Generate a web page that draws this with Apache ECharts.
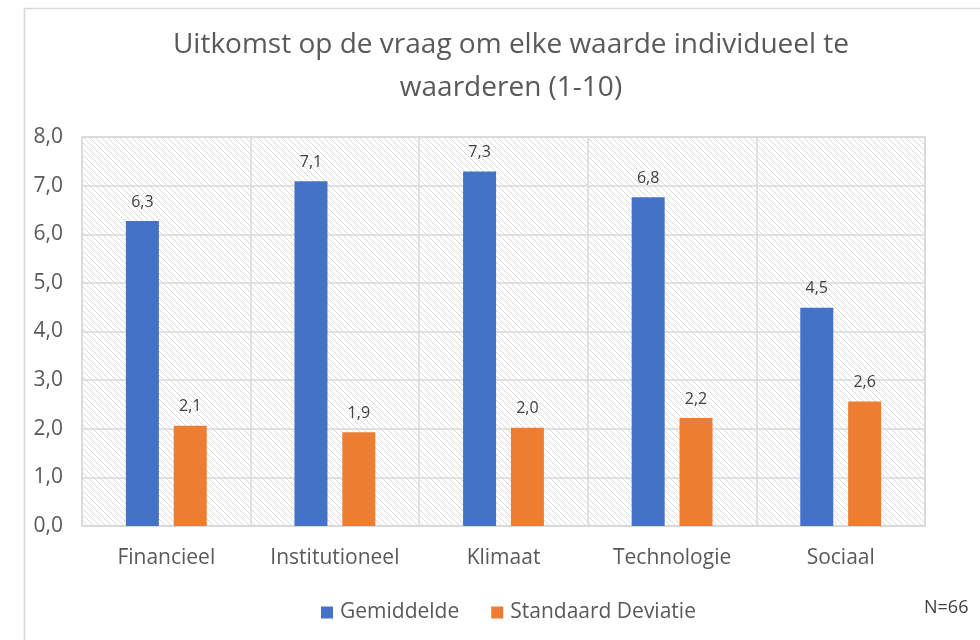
<!DOCTYPE html>
<html>
<head>
<meta charset="utf-8">
<script src="https://cdn.jsdelivr.net/npm/echarts@6/dist/echarts.min.js"></script>
<style>
html,body{margin:0;padding:0;background:#fff;}
#chart{width:980px;height:640px;}
</style>
</head>
<body>
<div id="chart"></div>
<script>
const categories = ['Financieel', 'Institutioneel', 'Klimaat', 'Technologie', 'Sociaal'];
const gemiddelde = [6.27, 7.09, 7.29, 6.76, 4.49];
const standaardDeviatie = [2.06, 1.93, 2.02, 2.22, 2.56];
const seriesNames = ['Gemiddelde', 'Standaard Deviatie'];
const yTicks = [0, 1, 2, 3, 4, 5, 6, 7, 8];
const titleText = 'Uitkomst op de vraag om elke waarde individueel te\nwaarderen (1-10)';

const FONT = '"Open Sans", "Noto Sans", sans-serif';

// hatch pattern
const tile = document.createElement('canvas');
tile.width = 6; tile.height = 6;
const tc = tile.getContext('2d');
tc.fillStyle = '#ffffff';
tc.fillRect(0, 0, 6, 6);
tc.strokeStyle = '#dadada';
tc.lineWidth = 1;
tc.beginPath();
tc.moveTo(-1, -1); tc.lineTo(7, 7);
tc.moveTo(-7, -1); tc.lineTo(1, 7);
tc.moveTo(5, -1); tc.lineTo(13, 7);
tc.stroke();

const fmt = v => v.toFixed(1).replace('.', ',');

const chart = echarts.init(document.getElementById('chart'), null, {renderer: 'canvas'});
chart.setOption({
  animation: false,
  backgroundColor: '#ffffff',
  grid: {
    left: 82, top: 137, width: 843, height: 389,
    show: true,
    backgroundColor: {image: tile, repeat: 'repeat'},
    borderColor: '#d9d9d9',
    borderWidth: 1.5
  },
  legend: {
    data: seriesNames,
    left: 316,
    top: 597,
    itemWidth: 12,
    itemHeight: 12,
    itemGap: 32,
    icon: 'rect',
    textStyle: {fontFamily: FONT, fontSize: 21, color: '#595959', padding: [0, 0, 0, 2]}
  },
  xAxis: {
    type: 'category',
    data: categories,
    axisLine: {show: true, lineStyle: {color: '#d9d9d9', width: 1.5}},
    axisTick: {show: false},
    splitLine: {show: true, lineStyle: {color: '#d9d9d9', width: 1.5}},
    axisLabel: {fontFamily: FONT, fontSize: 21, color: '#595959', margin: 22}
  },
  yAxis: {
    type: 'value',
    min: yTicks[0],
    max: yTicks[yTicks.length - 1],
    interval: 1,
    axisLine: {show: false},
    axisTick: {show: false},
    splitLine: {show: true, lineStyle: {color: '#d9d9d9', width: 1.5}},
    axisLabel: {fontFamily: FONT, fontSize: 21, color: '#595959', margin: 19, formatter: v => fmt(v)}
  },
  series: [
    {
      name: seriesNames[0],
      type: 'bar',
      data: gemiddelde,
      barWidth: 33,
      barGap: '45%',
      itemStyle: {color: '#4472C4'},
      label: {show: true, position: 'top', distance: 11, fontFamily: FONT, fontSize: 16, color: '#404040', formatter: p => fmt(p.value)}
    },
    {
      name: seriesNames[1],
      type: 'bar',
      data: standaardDeviatie,
      barWidth: 33,
      barGap: '45%',
      itemStyle: {color: '#ED7D31'},
      label: {show: true, position: 'top', distance: 11, fontFamily: FONT, fontSize: 16, color: '#404040', formatter: p => fmt(p.value)}
    }
  ],
  graphic: [
    {type: 'rect', left: 22, top: 6, silent: true, z: 100,
     shape: {x: 0, y: 0, width: 1000, height: 700},
     style: {fill: null, stroke: '#d9d9d9', lineWidth: 1.5}},
    {type: 'text', x: 511, y: 24, z: 100,
     style: {text: titleText, fontFamily: FONT, fontSize: 28, fill: '#595959',
             lineHeight: 43, align: 'center', verticalAlign: 'top'}},
    {type: 'text', left: 924, top: 599, z: 100,
     style: {text: 'N=66', fontFamily: FONT, fontSize: 18, fill: '#404040'}}
  ]
});
</script>
</body>
</html>
